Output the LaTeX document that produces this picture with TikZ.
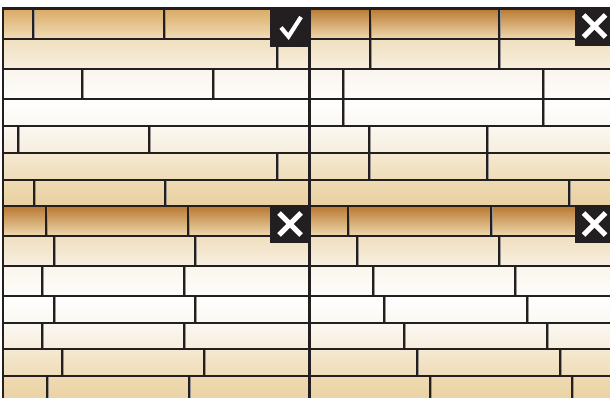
\documentclass[tikz,border=0pt]{standalone}
\definecolor{ink}{HTML}{231F20}
\definecolor{shadowgray}{HTML}{9A9590}
\definecolor{ra}{HTML}{B8782F}
\definecolor{rb}{HTML}{F0D9B0}
\definecolor{la}{HTML}{D9A962}
\definecolor{lb}{HTML}{F1DDB9}
\definecolor{sa}{HTML}{F0DFC0}
\definecolor{sb}{HTML}{F8EFDF}
\definecolor{ta}{HTML}{FAF5EC}
\definecolor{tb}{HTML}{FEFDFB}
\definecolor{ua}{HTML}{FFFFFF}
\definecolor{ub}{HTML}{FBF8F2}
\definecolor{va}{HTML}{FBF8F2}
\definecolor{vb}{HTML}{F6EDDC}
\definecolor{wa}{HTML}{F5E9D2}
\definecolor{wb}{HTML}{EFDCB8}
\definecolor{xa}{HTML}{EFDAB2}
\definecolor{xb}{HTML}{E8D0A0}
\tikzset{
  seamline/.style={draw=ink, line width=1.6pt},
  seamshadow/.style={draw=shadowgray, line width=0.8pt},
  hline/.style={draw=ink, line width=1.8pt},
  divider/.style={draw=ink, line width=2.6pt},
  badge/.style={fill=ink},
  markline/.style={draw=white, line width=4.2pt},
}
\newcommand\rowshade[6]{\shade[top color=#5,bottom color=#6] (#1,#3) rectangle (#2,#4);}
\newcommand\seam[3]{\draw[seamshadow] (#1+1.4,#2) -- (#1+1.4,#3); \draw[seamline] (#1,#2) -- (#1,#3);}
\begin{document}
\begin{tikzpicture}[x=1pt,y=-1pt]
\useasboundingbox (0,0) rectangle (610,398);
\clip (0,0) rectangle (610,398);
\fill[white] (0,0) rectangle (610,398);
% ---- top-left panel rows
\rowshade{4}{309}{8}{39}{la}{lb}
\rowshade{4}{309}{39}{69}{sa}{sb}
\rowshade{4}{309}{69}{99}{ta}{tb}
\rowshade{4}{309}{99}{126}{ua}{ub}
\rowshade{4}{309}{126}{153}{va}{vb}
\rowshade{4}{309}{153}{180}{wa}{wb}
\rowshade{4}{309}{180}{206}{xa}{xb}
% ---- top-right panel rows
\rowshade{309}{614}{8}{39}{ra}{rb}
\rowshade{309}{614}{39}{69}{sa}{sb}
\rowshade{309}{614}{69}{99}{ta}{tb}
\rowshade{309}{614}{99}{126}{ua}{ub}
\rowshade{309}{614}{126}{153}{va}{vb}
\rowshade{309}{614}{153}{180}{wa}{wb}
\rowshade{309}{614}{180}{206}{xa}{xb}
% ---- bottom panels rows
\foreach \xa/\xb in {4/309,309/614}{
\rowshade{\xa}{\xb}{206}{236}{ra}{rb}
\rowshade{\xa}{\xb}{236}{266}{sa}{sb}
\rowshade{\xa}{\xb}{266}{296}{ta}{tb}
\rowshade{\xa}{\xb}{296}{323}{ua}{ub}
\rowshade{\xa}{\xb}{323}{349}{va}{vb}
\rowshade{\xa}{\xb}{349}{376}{wa}{wb}
\rowshade{\xa}{\xb}{376}{403}{xa}{xb}
}
% ---- seams top-left
\seam{33}{8}{39}\seam{164}{8}{39}
\seam{277}{39}{69}
\seam{82}{69}{99}\seam{213}{69}{99}
\seam{18}{126}{153}\seam{149}{126}{153}
\seam{277}{153}{180}
\seam{34}{180}{206}\seam{165}{180}{206}
% ---- seams top-right
\seam{370}{8}{39}\seam{499}{8}{39}
\seam{370}{39}{69}\seam{499}{39}{69}
\seam{343}{69}{99}\seam{543}{69}{99}
\seam{343}{99}{126}\seam{543}{99}{126}
\seam{369}{126}{153}\seam{487}{126}{153}
\seam{369}{153}{180}\seam{487}{153}{180}
\seam{569}{180}{206}
% ---- seams bottom-left
\seam{46}{206}{236}\seam{188}{206}{236}
\seam{54}{236}{266}\seam{195}{236}{266}
\seam{42}{266}{296}\seam{184}{266}{296}
\seam{54}{296}{323}\seam{195}{296}{323}
\seam{42}{323}{349}\seam{184}{323}{349}
\seam{62}{349}{376}\seam{204}{349}{376}
\seam{47}{376}{403}\seam{189}{376}{403}
% ---- seams bottom-right
\seam{348}{206}{236}\seam{491}{206}{236}
\seam{357}{236}{266}\seam{499}{236}{266}
\seam{373}{266}{296}\seam{515}{266}{296}
\seam{384}{296}{323}\seam{527}{296}{323}
\seam{404}{323}{349}\seam{547}{323}{349}
\seam{417}{349}{376}\seam{560}{349}{376}
\seam{430}{376}{403}\seam{572}{376}{403}
% ---- horizontal lines
\foreach \y in {39,69,99,126,153,180,236,266,296,323,349,376}{
  \draw[hline] (4,\y) -- (614,\y);
}
% ---- frame and dividers
\draw[divider] (3,400) -- (3,8.5) -- (614,8.5);
\draw[divider] (4,206) -- (614,206);
\draw[divider] (309.5,8) -- (309.5,400);
% ---- badges
\fill[badge] (270,8) rectangle (308.5,47);
\fill[badge] (575,8) rectangle (614,46);
\fill[badge] (270,206) rectangle (308.5,243);
\fill[badge] (575,206) rectangle (614,243);
% check mark
\draw[markline, line join=miter] (281,27.5) -- (288.5,36.5) -- (301,17);
% crosses
\foreach \cx/\cy in {594.5/26, 290/224, 594.5/224}{
  \draw[markline, line width=5pt] (\cx-11,\cy-11) -- (\cx+11,\cy+11);
  \draw[markline, line width=5pt] (\cx-11,\cy+11) -- (\cx+11,\cy-11);
}
\end{tikzpicture}
\end{document}
